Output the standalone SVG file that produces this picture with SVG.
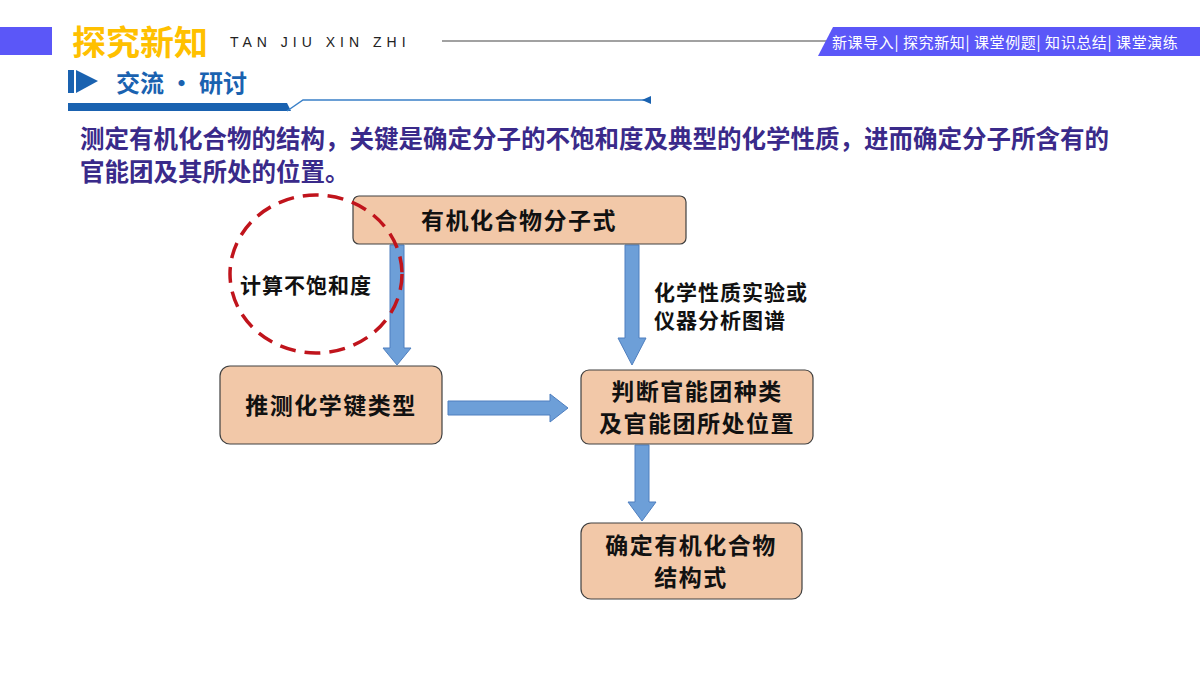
<svg xmlns="http://www.w3.org/2000/svg" width="1200" height="675" viewBox="0 0 1200 675">
<style>
.cjk{font-family:"Noto Sans CJK SC","Noto Sans",sans-serif;font-weight:bold}
.box{fill:#f2c8a8;stroke:#404040;stroke-width:1.2}
.bt{font-size:23px;letter-spacing:1.5px;fill:#111;text-anchor:middle}
.arr{fill:#6d9fd8;stroke:#4f7fbf;stroke-width:1}
</style>
<rect width="1200" height="675" fill="#fff"/>
<rect x="0" y="27" width="52" height="28" fill="#5b57f8"/>
<text x="72" y="55" class="cjk" font-size="34" fill="#ffc000">探究新知</text>
<text x="230" y="47" font-family="Liberation Sans,sans-serif" font-size="14" letter-spacing="5" fill="#222">TAN JIU XIN ZHI</text>
<line x1="442" y1="41" x2="830" y2="41" stroke="#444" stroke-width="1.2"/>
<polygon points="833,27 1200,27 1200,56 818,56" fill="#5b57f8"/>
<text x="832" y="48" font-family="Noto Sans CJK SC,sans-serif" font-size="15" letter-spacing="0.6" fill="#fff">新课导入|  探究新知|  课堂例题|  知识总结|  课堂演练</text>
<polygon points="68,70 74,70 74,93 68,93" fill="#1a62b0"/>
<polygon points="76,70 98,81 76,93" fill="#1a62b0"/>
<text x="116" y="92" class="cjk" font-size="24" fill="#1a62b0">交流 · 研讨</text>
<polygon points="68,103 287,103 291,111 68,111" fill="#1a62b0"/>
<polyline points="287,111 303,100 645,100" fill="none" stroke="#3a80c8" stroke-width="1.5"/>
<polygon points="642,100 651,96 651,104" fill="#1a62b0"/>
<text class="cjk" font-size="24.5" fill="#3a2a8a"><tspan x="80" y="148">测定有机化合物的结构，关键是确定分子的不饱和度及典型的化学性质，进而确定分子所含有的</tspan><tspan x="80" y="181">官能团及其所处的位置。</tspan></text>
<g id="connectors">
<polygon class="arr" points="390,245 404,245 404,348 411,348 397,365 383,348 390,348"/>
<polygon class="arr" points="625,245 639,245 639,338 646,338 632,365 618,338 625,338"/>
<polygon class="arr" points="448,401 550,401 550,394 568,408 550,422 550,415 448,415"/>
<polygon class="arr" points="635,445 649,445 649,502 656,502 642,521 628,502 635,502"/>
</g>
<g id="n1"><rect class="box" x="353" y="196" width="333" height="48" rx="6"/><text class="cjk bt" x="519" y="229">有机化合物分子式</text></g>
<g id="n2"><rect class="box" x="220" y="366" width="222" height="78" rx="10"/><text class="cjk bt" x="331" y="414">推测化学键类型</text></g>
<g id="n3"><rect class="box" x="581" y="370" width="232" height="74" rx="8"/><text class="cjk bt" x="697" y="400">判断官能团种类</text><text class="cjk bt" x="697" y="432">及官能团所处位置</text></g>
<g id="n4"><rect class="box" x="581" y="523" width="221" height="76" rx="10"/><text class="cjk bt" x="691" y="554">确定有机化合物</text><text class="cjk bt" x="691" y="586">结构式</text></g>
<ellipse cx="316" cy="274" rx="86" ry="79" fill="none" stroke="#c0141c" stroke-width="3.5" stroke-dasharray="16,9"/>
<text x="306" y="293" class="cjk" font-size="21" letter-spacing="1" fill="#111" text-anchor="middle">计算不饱和度</text>
<text class="cjk" font-size="21" letter-spacing="1" fill="#111"><tspan x="654" y="300">化学性质实验或</tspan><tspan x="654" y="328">仪器分析图谱</tspan></text>
</svg>
